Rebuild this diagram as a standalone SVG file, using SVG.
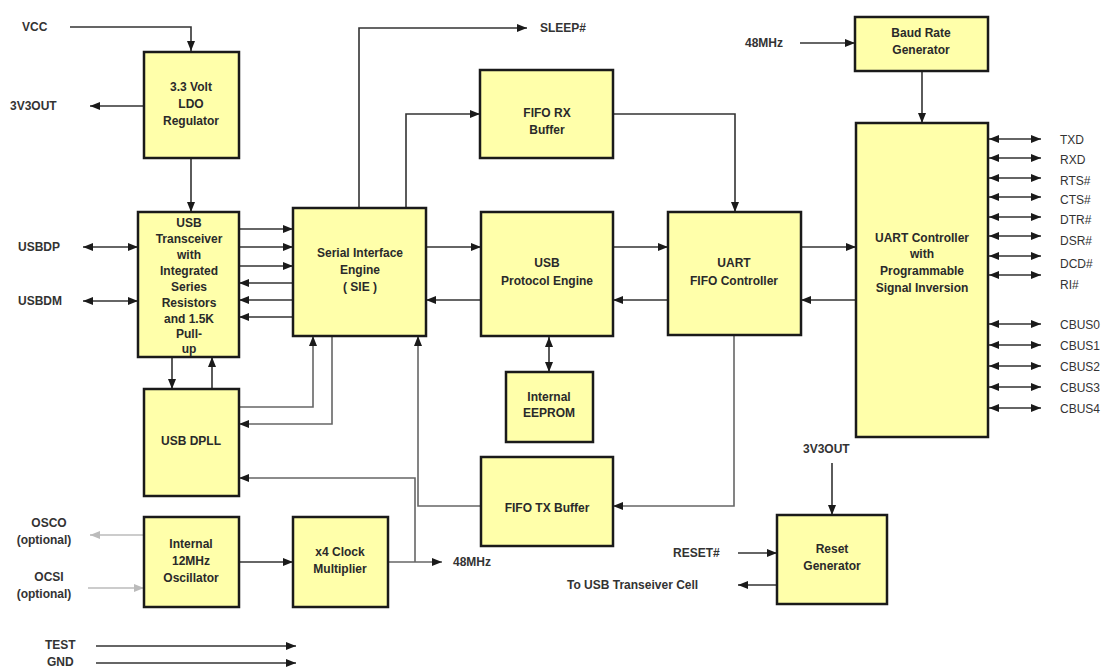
<svg xmlns="http://www.w3.org/2000/svg" width="1109" height="667" viewBox="0 0 1109 667">
<style>
.box{fill:#ffffaa;stroke:#1a1a1a;stroke-width:2.5}
.bt{font-family:"Liberation Sans",Arial,sans-serif;font-size:12px;font-weight:bold;fill:#2a2a2a;text-anchor:middle}
.lb{font-family:"Liberation Sans",Arial,sans-serif;font-size:12px;font-weight:bold;fill:#333}
.rl{font-family:"Liberation Sans",Arial,sans-serif;font-size:12px;fill:#333}
.ln{fill:none;stroke:#333;stroke-width:1.6}
.lg{fill:none;stroke:#666;stroke-width:1.6}
.gr{fill:none;stroke:#bbb;stroke-width:1.6}
</style>
<defs>
<marker id="a" viewBox="0 0 10 8" refX="10" refY="4" markerWidth="11" markerHeight="8" markerUnits="userSpaceOnUse" orient="auto-start-reverse"><path d="M0,0 L10,4 L0,8 z" fill="#1a1a1a"/></marker>
<marker id="g" viewBox="0 0 10 8" refX="10" refY="4" markerWidth="11" markerHeight="8" markerUnits="userSpaceOnUse" orient="auto-start-reverse"><path d="M0,0 L10,4 L0,8 z" fill="#bbb"/></marker>
</defs>
<rect width="1109" height="667" fill="#fff"/>

<g id="connectors">
<path class="ln" d="M70 27 H191 V51" marker-end="url(#a)"/>
<path class="ln" d="M144 106 H90" marker-end="url(#a)"/>
<path class="ln" d="M191 158 V212" marker-end="url(#a)"/>
<path class="ln" d="M83 247 H138" marker-start="url(#a)" marker-end="url(#a)"/>
<path class="ln" d="M83 301 H138" marker-start="url(#a)" marker-end="url(#a)"/>
<path class="ln" d="M239 229 H293" marker-end="url(#a)"/>
<path class="ln" d="M239 247 H293" marker-end="url(#a)"/>
<path class="ln" d="M239 266 H293" marker-end="url(#a)"/>
<path class="ln" d="M293 283 H239" marker-end="url(#a)"/>
<path class="ln" d="M293 300 H239" marker-end="url(#a)"/>
<path class="ln" d="M293 317 H239" marker-end="url(#a)"/>
<path class="ln" d="M172 357 V389" marker-end="url(#a)"/>
<path class="ln" d="M212 389 V357" marker-end="url(#a)"/>
<path class="ln" d="M359 208 V28 H527" marker-end="url(#a)"/>
<path class="ln" d="M406 208 V114 H480" marker-end="url(#a)"/>
<path class="ln" d="M426 247 H481" marker-end="url(#a)"/>
<path class="ln" d="M481 300 H426" marker-end="url(#a)"/>
<path class="ln" d="M613 247 H668" marker-end="url(#a)"/>
<path class="ln" d="M668 300 H613" marker-end="url(#a)"/>
<path class="ln" d="M613 114 H735 V212" marker-end="url(#a)"/>
<path class="ln" d="M801 247 H856" marker-end="url(#a)"/>
<path class="ln" d="M856 300 H801" marker-end="url(#a)"/>
<path class="ln" d="M922 71 V123" marker-end="url(#a)"/>
<path class="ln" d="M800 43 H855" marker-end="url(#a)"/>
<path class="ln" d="M549 337 V372" marker-start="url(#a)" marker-end="url(#a)"/>
<path class="lg" d="M734 336 V506 H613" marker-end="url(#a)"/>
<path class="lg" d="M481 506 H418 V336" marker-end="url(#a)"/>
<path class="lg" d="M388 562 H442" marker-end="url(#a)"/>
<path class="lg" d="M415 562 V478 H239" marker-end="url(#a)"/>
<path class="lg" d="M239 407 H313 V336" marker-end="url(#a)"/>
<path class="lg" d="M332 336 V424 H239" marker-end="url(#a)"/>
<path class="ln" d="M239 562 H293" marker-end="url(#a)"/>
<path class="gr" d="M144 535 H90" marker-end="url(#g)"/>
<path class="gr" d="M88 588 H144" marker-end="url(#g)"/>
<path class="ln" d="M96 646 H296" marker-end="url(#a)"/>
<path class="ln" d="M96 663 H296" marker-end="url(#a)"/>
<path class="ln" d="M832 463 V515" marker-end="url(#a)"/>
<path class="ln" d="M738 553 H777" marker-end="url(#a)"/>
<path class="ln" d="M777 585 H738" marker-end="url(#a)"/>
<g id="uart-io">
<path class="ln" d="M989 139 H1041" marker-start="url(#a)" marker-end="url(#a)"/>
<path class="ln" d="M989 158 H1041" marker-start="url(#a)" marker-end="url(#a)"/>
<path class="ln" d="M989 178 H1041" marker-start="url(#a)" marker-end="url(#a)"/>
<path class="ln" d="M989 197 H1041" marker-start="url(#a)" marker-end="url(#a)"/>
<path class="ln" d="M989 217 H1041" marker-start="url(#a)" marker-end="url(#a)"/>
<path class="ln" d="M989 236 H1041" marker-start="url(#a)" marker-end="url(#a)"/>
<path class="ln" d="M989 256 H1041" marker-start="url(#a)" marker-end="url(#a)"/>
<path class="ln" d="M989 275 H1041" marker-start="url(#a)" marker-end="url(#a)"/>
<path class="ln" d="M989 324 H1041" marker-start="url(#a)" marker-end="url(#a)"/>
<path class="ln" d="M989 345 H1041" marker-start="url(#a)" marker-end="url(#a)"/>
<path class="ln" d="M989 366 H1041" marker-start="url(#a)" marker-end="url(#a)"/>
<path class="ln" d="M989 387 H1041" marker-start="url(#a)" marker-end="url(#a)"/>
<path class="ln" d="M989 408 H1041" marker-start="url(#a)" marker-end="url(#a)"/>
</g>
</g>

<g id="labels">
<text class="lb" x="22" y="31">VCC</text>
<text class="lb" x="10" y="110">3V3OUT</text>
<text class="lb" x="18" y="251">USBDP</text>
<text class="lb" x="18" y="305">USBDM</text>
<text class="lb" x="540" y="32">SLEEP#</text>
<text class="lb" x="745" y="47">48MHz</text>
<text class="lb" x="453" y="566">48MHz</text>
<text class="lb" x="49" y="527" text-anchor="middle">OSCO</text>
<text class="lb" x="44" y="544" text-anchor="middle">(optional)</text>
<text class="lb" x="49" y="581" text-anchor="middle">OCSI</text>
<text class="lb" x="44" y="598" text-anchor="middle">(optional)</text>
<text class="lb" x="45" y="649">TEST</text>
<text class="lb" x="47" y="666">GND</text>
<text class="lb" x="803" y="453">3V3OUT</text>
<text class="lb" x="673" y="557">RESET#</text>
<text class="lb" x="567" y="589">To USB Transeiver Cell</text>
<text class="rl" x="1060" y="144">TXD</text>
<text class="rl" x="1060" y="164">RXD</text>
<text class="rl" x="1060" y="185">RTS#</text>
<text class="rl" x="1060" y="204">CTS#</text>
<text class="rl" x="1060" y="224">DTR#</text>
<text class="rl" x="1060" y="245">DSR#</text>
<text class="rl" x="1060" y="268">DCD#</text>
<text class="rl" x="1060" y="289">RI#</text>
<text class="rl" x="1060" y="329">CBUS0</text>
<text class="rl" x="1060" y="350">CBUS1</text>
<text class="rl" x="1060" y="371">CBUS2</text>
<text class="rl" x="1060" y="392">CBUS3</text>
<text class="rl" x="1060" y="413">CBUS4</text>
</g>

<g id="ldo"><rect class="box" x="144" y="52" width="95" height="106"/>
<text class="bt" x="191" y="91">3.3 Volt</text><text class="bt" x="191" y="108">LDO</text><text class="bt" x="191" y="125">Regulator</text></g>

<g id="transceiver"><rect class="box" x="138" y="212" width="101" height="145"/>
<text class="bt" x="189" y="227">USB</text><text class="bt" x="189" y="243">Transceiver</text><text class="bt" x="189" y="259">with</text><text class="bt" x="189" y="275">Integrated</text><text class="bt" x="189" y="291">Series</text><text class="bt" x="189" y="307">Resistors</text><text class="bt" x="189" y="323">and 1.5K</text><text class="bt" x="189" y="338">Pull-</text><text class="bt" x="189" y="353">up</text></g>

<g id="dpll"><rect class="box" x="144" y="389" width="95" height="107"/>
<text class="bt" x="191" y="445">USB DPLL</text></g>

<g id="osc"><rect class="box" x="144" y="517" width="95" height="90"/>
<text class="bt" x="191" y="548">Internal</text><text class="bt" x="191" y="565">12MHz</text><text class="bt" x="191" y="582">Oscillator</text></g>

<g id="mult"><rect class="box" x="293" y="517" width="95" height="90"/>
<text class="bt" x="340" y="556">x4 Clock</text><text class="bt" x="340" y="573">Multiplier</text></g>

<g id="sie"><rect class="box" x="293" y="208" width="133" height="128"/>
<text class="bt" x="360" y="257">Serial Interface</text><text class="bt" x="360" y="274">Engine</text><text class="bt" x="360" y="291">( SIE )</text></g>

<g id="protocol"><rect class="box" x="481" y="212" width="132" height="124"/>
<text class="bt" x="547" y="267">USB</text><text class="bt" x="547" y="285">Protocol Engine</text></g>

<g id="fifoctl"><rect class="box" x="668" y="212" width="133" height="123"/>
<text class="bt" x="734" y="267">UART</text><text class="bt" x="734" y="285">FIFO Controller</text></g>

<g id="fiforx"><rect class="box" x="480" y="70" width="133" height="88"/>
<text class="bt" x="547" y="117">FIFO RX</text><text class="bt" x="547" y="134">Buffer</text></g>

<g id="baud"><rect class="box" x="855" y="17" width="133" height="54"/>
<text class="bt" x="921" y="37">Baud Rate</text><text class="bt" x="921" y="54">Generator</text></g>

<g id="uart"><rect class="box" x="856" y="123" width="132" height="314"/>
<text class="bt" x="922" y="242">UART Controller</text><text class="bt" x="922" y="258">with</text><text class="bt" x="922" y="275">Programmable</text><text class="bt" x="922" y="292">Signal Inversion</text></g>

<g id="eeprom"><rect class="box" x="506" y="372" width="87" height="70"/>
<text class="bt" x="549" y="401">Internal</text><text class="bt" x="549" y="417">EEPROM</text></g>

<g id="fifotx"><rect class="box" x="481" y="457" width="132" height="89"/>
<text class="bt" x="547" y="512">FIFO TX Buffer</text></g>

<g id="reset"><rect class="box" x="777" y="515" width="110" height="89"/>
<text class="bt" x="832" y="553">Reset</text><text class="bt" x="832" y="570">Generator</text></g>
</svg>
